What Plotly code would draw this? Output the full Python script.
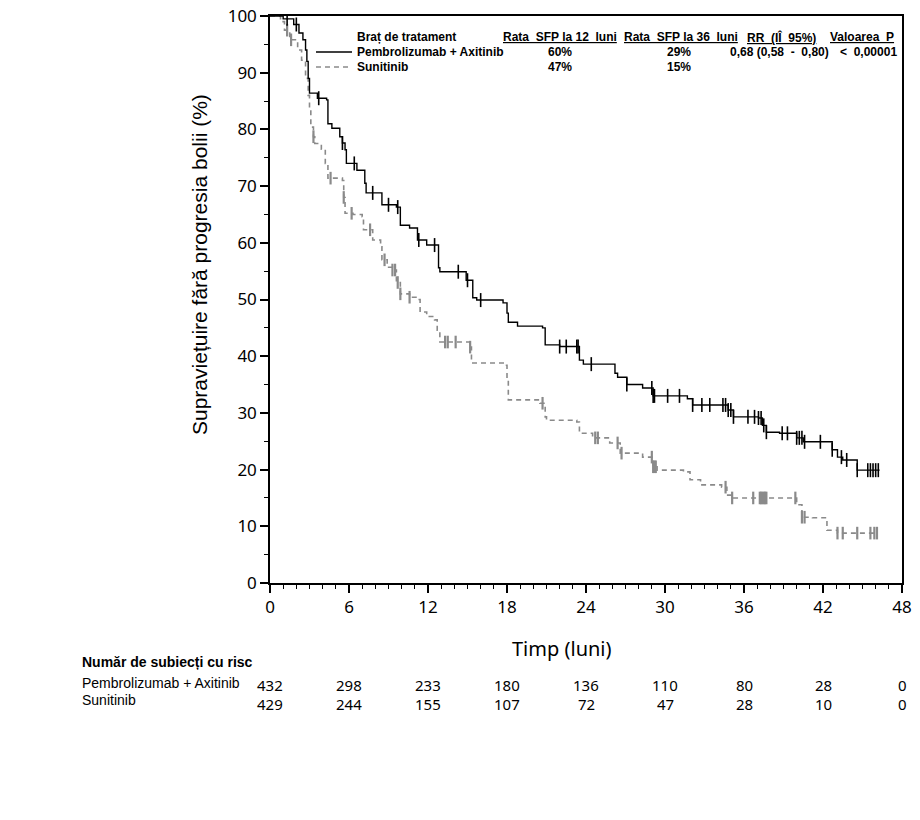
import plotly.graph_objects as go

# ---------------- data ----------------
pa_t = [0, 1.0, 1.8, 2.2, 2.5, 2.7, 2.8, 2.9, 3.0, 3.6, 4.3, 4.4, 4.7, 5.3, 5.5, 5.7, 5.8, 6.6,
        7.2, 7.3, 8.5, 9.6, 9.9, 10.6, 11.2, 11.9, 12.8, 12.9, 14.9, 15.4, 15.7, 17.7, 18.0,
        18.1, 18.8, 20.7, 20.9, 22.0, 23.5, 23.8, 26.2, 26.4, 27.1, 28.3, 29.1, 31.7, 32.1,
        34.8, 35.2, 37.1, 37.4, 37.7, 38.7, 40.0, 40.5, 42.7, 43.1, 43.5, 44.6, 46.3]
pa_s = [100, 99.5, 98.5, 97, 95.8, 94, 92, 89, 86.4, 85.5, 85.2, 81, 80.2, 78.7, 77.6, 76.4, 74,
        72.8, 70.5, 68.8, 66.7, 66.3, 63.1, 62.6, 60.5, 59.6, 55.6, 54.9, 53.4, 50.3, 49.9,
        49.4, 47.6, 46, 45.3, 45, 42, 41.7, 39.3, 38.6, 37, 36.3, 35, 34.4, 33, 32.5, 31.4,
        30.5, 29.3, 29.1, 27.8, 26.6, 26.4, 25.6, 24.9, 23.5, 22.2, 21.7, 19.9, 19.9]
pa_cens = [1.3, 2.0, 3.7, 5.5, 6.4, 7.8, 9.0, 9.7, 11.3, 12.5, 14.3, 15.0, 16.0, 22.0, 22.5,
           23.3, 23.4, 24.4, 27.1, 29.0, 29.1, 29.2, 30.2, 31.1, 32.1, 32.8, 33.4, 34.4, 34.6,
           34.8, 35.0, 35.2, 36.3, 36.8, 37.1, 37.3, 37.5, 37.7, 38.9, 39.3, 40.0, 40.2, 40.4,
           40.6, 41.8, 42.7, 43.4, 43.8, 44.6, 45.4, 45.6, 45.8, 46.0, 46.2]

su_t = [0, 0.8, 1.1, 1.5, 2.1, 2.4, 2.7, 2.9, 3.0, 3.1, 3.3, 3.4, 3.9, 4.2, 4.4, 5.5, 5.6, 5.7,
        6.3, 7.0, 7.1, 7.8, 8.4, 8.5, 8.9, 9.3, 9.6, 9.9, 10.6, 11.2, 11.4, 11.9, 12.5, 12.7,
        12.9, 15.2, 15.3, 17.9, 18.0, 18.1, 20.5, 20.9, 21.0, 23.3, 23.5, 24.5, 25.8, 26.6,
        28.3, 29.1, 29.4, 31.4, 31.9, 32.7, 34.3, 34.7, 35.1, 39.7, 40.0, 40.4, 41.2, 42.3,
        43.1, 46.1]
su_s = [100, 99, 97.5, 95.8, 94, 92.2, 89, 86, 83.4, 80.4, 78.7, 77.5, 76.5, 74, 71.4, 71, 68,
        65.2, 65, 64.6, 62.3, 60.5, 59.3, 57, 55.7, 55.2, 53, 51, 50.4, 50, 47.8, 47, 46.4,
        44.6, 42.5, 41.6, 38.8, 38.4, 36.3, 32.3, 31.7, 29.3, 28.7, 28.4, 26.4, 25.6, 24.7,
        22.9, 22.2, 20.5, 19.9, 19.6, 18.2, 17.3, 16.9, 15.5, 15, 15, 13.8, 11.6, 11.5, 9.3,
        8.8, 8.8]
su_cens = [1.3, 1.6, 3.3, 4.6, 5.6, 6.2, 7.6, 8.7, 9.3, 9.5, 9.7, 9.9, 10.6, 13.3, 13.5, 14.1,
           15.2, 20.7, 24.7, 24.9, 26.4, 26.7, 29.0, 29.1, 29.2, 29.3, 34.6, 35.1, 36.7, 37.2,
           37.3, 37.4, 37.5, 37.6, 37.7, 39.9, 40.4, 40.6, 43.1, 43.5, 44.6, 45.6, 45.9, 46.1]

risk_times = [0, 6, 12, 18, 24, 30, 36, 42, 48]
risk_pa = [432, 298, 233, 180, 136, 110, 80, 28, 0]
risk_su = [429, 244, 155, 107, 72, 47, 28, 10, 0]

arm_names = ["Pembrolizumab + Axitinib", "Sunitinib"]
rate12 = ["60%", "47%"]
rate36 = ["29%", "15%"]
hr_text = "0,68 (0,58  -  0,80)"
p_text = "<  0,00001"

x_ticks = [0, 6, 12, 18, 24, 30, 36, 42, 48]
y_ticks = [0, 10, 20, 30, 40, 50, 60, 70, 80, 90, 100]

# ---------------- helpers ----------------
def step_val(ts, ss, t):
    v = ss[0]
    for ti, si in zip(ts, ss):
        if ti <= t:
            v = si
        else:
            break
    return v

W, H = 920, 820
L, R, T, B = 270, 18, 16, 237
PW, PH = W - L - R, H - T - B

def px(xp):
    return (xp - L) / PW

def py(yp):
    return (H - B - yp) / PH

BLACK = "#000000"
GREY = "#8a8a8a"
NARROW = "Liberation Sans Narrow, Arial Narrow, Liberation Sans, Arial, sans-serif"
SANS = "Noto Sans, Open Sans, DejaVu Sans, sans-serif"
ARIAL = "Liberation Sans, Arial, sans-serif"

fig = go.Figure()

fig.add_trace(go.Scatter(x=su_t, y=su_s, mode="lines", line_shape="hv",
                         line=dict(color=GREY, width=1.6, dash="5px,4px"),
                         showlegend=False, hoverinfo="skip"))
fig.add_trace(go.Scatter(x=su_cens, y=[step_val(su_t, su_s, c) for c in su_cens], mode="markers",
                         marker=dict(symbol="line-ns-open", size=9, color=GREY,
                                     line=dict(color=GREY, width=2.2)),
                         showlegend=False, hoverinfo="skip"))
fig.add_trace(go.Scatter(x=pa_t, y=pa_s, mode="lines", line_shape="hv",
                         line=dict(color=BLACK, width=1.4),
                         showlegend=False, hoverinfo="skip"))
fig.add_trace(go.Scatter(x=pa_cens, y=[step_val(pa_t, pa_s, c) for c in pa_cens], mode="markers",
                         marker=dict(symbol="line-ns-open", size=10, color=BLACK,
                                     line=dict(color=BLACK, width=1.6)),
                         showlegend=False, hoverinfo="skip"))

annotations = []
shapes = []

def ann(text, xp, yp, size=12, font=NARROW, xanchor="left", color="black", angle=0):
    annotations.append(dict(text=text, x=px(xp), y=py(yp), xref="paper", yref="paper",
                            xanchor=xanchor, yanchor="middle", showarrow=False, textangle=angle,
                            font=dict(family=font, size=size, color=color)))

# legend block
ann("<b>Braț de tratament</b>", 355, 37)
ann("<b>" + arm_names[0] + "</b>", 355, 52)
ann("<b>" + arm_names[1] + "</b>", 355, 67)
ann("<b><u>Rata  SFP la 12  luni</u></b>", 560, 37, xanchor="center")
ann("<b><u>Rata  SFP la 36  luni</u></b>", 681, 37, xanchor="center")
ann("<b><u>RR  (IÎ  95%)</u></b>", 781, 37, xanchor="center")
ann("<b><u>Valoarea  P</u></b>", 862, 37, xanchor="center")
ann("<b>" + rate12[0] + "</b>", 560, 52, xanchor="center")
ann("<b>" + rate12[1] + "</b>", 560, 67, xanchor="center")
ann("<b>" + rate36[0] + "</b>", 679, 52, xanchor="center")
ann("<b>" + rate36[1] + "</b>", 679, 67, xanchor="center")
ann("<b>" + hr_text + "</b>", 779, 52, xanchor="center")
ann("<b>" + p_text + "</b>", 868, 52, xanchor="center")

shapes.append(dict(type="line", xref="paper", yref="paper", x0=px(316), x1=px(352),
                   y0=py(52), y1=py(52), line=dict(color=BLACK, width=1.4)))
shapes.append(dict(type="line", xref="paper", yref="paper", x0=px(316), x1=px(352),
                   y0=py(67), y1=py(67), line=dict(color=GREY, width=1.4, dash="5px,4px")))

# axis titles
ann("Supraviețuire fără progresia bolii (%)", 199, 265, size=21, font=ARIAL,
    xanchor="center", angle=-90)
ann("Timp (luni)", 562, 648, size=20, font=SANS, xanchor="center")

# number at risk table
ann("<b>Număr de subiecți cu risc</b>", 80, 662, size=14)
ann(arm_names[0], 80, 683, size=14)
ann(arm_names[1], 80, 700, size=14)
for t, a, b in zip(risk_times, risk_pa, risk_su):
    annotations.append(dict(text=str(a), x=t, y=py(685), xref="x", yref="paper",
                            xanchor="center", yanchor="middle", showarrow=False,
                            font=dict(family=SANS, size=15, color="black")))
    annotations.append(dict(text=str(b), x=t, y=py(704), xref="x", yref="paper",
                            xanchor="center", yanchor="middle", showarrow=False,
                            font=dict(family=SANS, size=15, color="black")))

fig.update_layout(
    width=W, height=H,
    margin=dict(l=L, r=R, t=T, b=B, autoexpand=False),
    paper_bgcolor="white", plot_bgcolor="white",
    annotations=annotations, shapes=shapes,
    showlegend=False,
)

fig.update_xaxes(range=[0, 48], tickvals=x_ticks, ticktext=[str(v) for v in x_ticks],
                 automargin=False,
                 showgrid=False, zeroline=False, showline=True, linecolor="black", linewidth=1.5,
                 mirror=True, ticks="outside", ticklen=8, tickwidth=1.5, tickcolor="black",
                 minor=dict(dtick=1, ticks="outside", ticklen=4, tickwidth=1.2, tickcolor="black", showgrid=False),
                 tickfont=dict(family=SANS, size=17, color="black"))
fig.update_yaxes(range=[0, 100], tickvals=y_ticks, ticktext=[str(v) for v in y_ticks],
                 automargin=False,
                 showgrid=False, zeroline=False, showline=True, linecolor="black", linewidth=1.5,
                 mirror=True, ticks="outside", ticklen=8, tickwidth=1.5, tickcolor="black",
                 minor=dict(dtick=5, ticks="outside", ticklen=4, tickwidth=1.2, tickcolor="black", showgrid=False),
                 tickfont=dict(family=SANS, size=17, color="black"))

fig.write_html("out.html")
